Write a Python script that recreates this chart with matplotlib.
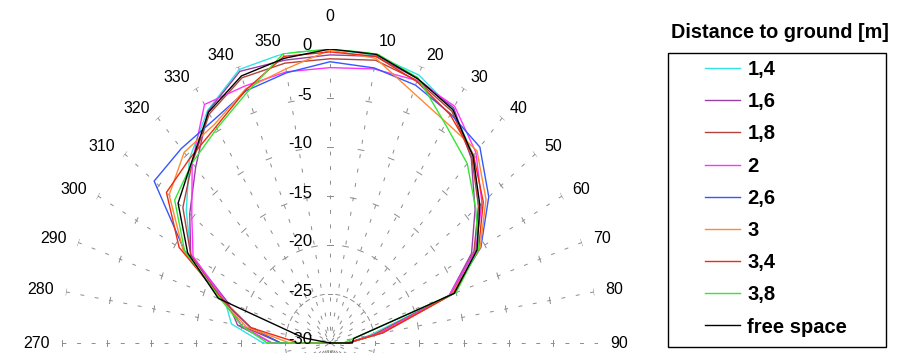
import numpy as np
import matplotlib.pyplot as plt
from matplotlib.patches import Rectangle
from matplotlib.lines import Line2D

# measured gain [dB] vs. azimuth [deg], upper half of the pattern
angles = [270, 280, 290, 300, 310, 320, 330, 340, 350, 0,
          10, 20, 30, 40, 50, 60, 70, 80, 90]

h14 = [-22.5, -18.8, -17.5, -12.0, -9.0, -5.5, -2.6, -0.3, 0.0, 0.0,
       -0.2, -0.9, -2.5, -5.0, -8.3, -11.3, -15.5, -25.5, -28.0]
h16 = [-23.5, -19.5, -17.8, -12.0, -9.5, -6.6, -2.7, -0.5, -0.7, -0.6,
       -0.3, -1.3, -2.3, -5.4, -8.8, -11.7, -15.8, -24.5, -28.0]
h18 = [-24.5, -20.0, -17.2, -12.0, -8.5, -6.0, -3.0, -1.2, -1.0, -1.0,
       -0.7, -1.5, -2.7, -5.3, -8.3, -11.4, -15.6, -25.0, -28.0]
h20 = [-23.5, -20.0, -17.5, -12.3, -9.8, -6.0, -1.9, -2.1, -1.9, -1.9,
       -1.6, -1.5, -2.1, -4.6, -7.8, -11.2, -15.8, -24.5, -28.0]
h26 = [-24.5, -21.0, -17.0, -11.2, -4.3, -4.1, -3.8, -2.6, -2.0, -1.3,
       -1.5, -2.0, -3.0, -3.9, -6.8, -10.5, -15.5, -24.0, -28.0]
h30 = [-25.5, -20.5, -17.0, -11.0, -6.5, -4.6, -4.2, -2.4, -1.6, -0.1,
       -0.5, -2.8, -4.0, -4.4, -7.2, -10.6, -15.5, -24.0, -28.0]
h34 = [-26.5, -21.0, -17.3, -10.5, -6.1, -5.5, -4.5, -2.5, -0.3, -0.3,
       -0.3, -1.6, -3.1, -5.0, -7.6, -10.8, -15.3, -24.0, -28.0]
h38 = [-23.0, -20.0, -17.0, -11.2, -7.3, -6.0, -4.7, -2.8, 0.0, 0.0,
       0.0, -1.2, -4.2, -6.1, -8.7, -10.8, -15.0, -27.3, -28.5]
free = [-30.0, -27.0, -16.7, -11.6, -7.8, -5.9, -2.8, -1.0, -0.5, 0.0,
        -0.1, -1.3, -2.5, -5.1, -8.1, -11.0, -15.2, -27.3, -27.5]

series = [h14, h16, h18, h20, h26, h30, h34, h38, free]
names = ["1,4", "1,6", "1,8", "2", "2,6", "3", "3,4", "3,8", "free space"]
colors = ["#33e3e3", "#9a3fa8", "#b2443a", "#ff33ff", "#3358ff",
          "#ff8a33", "#ee2a10", "#33e633", "#000000"]

rings = [-25, -20, -15, -10, -5, 0]
rlabels = [0, -5, -10, -15, -20, -25, -30]

plt.rcParams["font.family"] = ["Liberation Sans", "DejaVu Sans"]

W, H = 904, 353
fig = plt.figure(figsize=(W / 100, H / 100), dpi=100)

# polar axes with its centre near the bottom edge, only the top half shows
cx, cy = 330, 343
rx, ry = 268, 294
ax = fig.add_axes([(cx - rx) / W, (H - cy - ry) / H, 2 * rx / W, 2 * ry / H],
                  projection="polar")
ax.set_aspect("auto")
ax.set_theta_zero_location("N")
ax.set_theta_direction(-1)
ax.set_ylim(-30, 0)
ax.grid(False)
ax.set_xticks([])
ax.set_yticks([])
ax.spines["polar"].set_visible(False)

grey = "#8c8c8c"
for a in range(0, 360, 10):
    t = np.deg2rad(a)
    ax.plot([t, t], [0, -30], color=grey, lw=0.7, dashes=(4, 11))
    for r in rings:
        rpx = 280 * (r + 30) / 30
        d = min(3.0 / rpx, 0.045)
        ax.plot([t - d, t + d], [r, r], color=grey, lw=0.7)

for vals, name, c in zip(series, names, colors):
    th = np.deg2rad(angles + [angles[0]])
    ax.plot(th, vals + [vals[0]], color=c, lw=1.0, label=name)

# angle labels around the rim
for a in range(270, 451, 10):
    deg = a % 360
    t = np.deg2rad(deg)
    sx, sy = np.sin(t), np.cos(t)
    if deg == 0:
        ax.annotate("0", xy=(t, 0), xytext=(0, 25), textcoords="offset pixels",
                    ha="center", va="bottom", fontsize=11.5,
                    annotation_clip=False)
        continue
    ha = "left" if sx > 0 else "right"
    ax.annotate(str(deg), xy=(t, 0), xytext=(12 * sx, 12 * sy),
                textcoords="offset pixels", ha=ha, va="center",
                fontsize=11.5, annotation_clip=False)

# value labels along the 0 deg spoke
for v in rlabels:
    ax.annotate(str(v), xy=(0, v), xytext=(-18, 3), textcoords="offset pixels",
                ha="right", va="center", fontsize=12, annotation_clip=False)

# legend box and title
fig.add_artist(Rectangle((668 / W, (H - 347) / H), 218 / W, 294 / H,
                         transform=fig.transFigure, fill=False,
                         edgecolor="black", lw=1.0))
fig.text(780 / W, (H - 33) / H, "Distance to ground [m]", ha="center",
         va="center", fontsize=14.3, fontweight="bold")
handles = [Line2D([], [], color=c, lw=1.0) for c in colors]
fig.legend(handles, names, loc="upper left",
           bbox_to_anchor=(705 / W, (H - 60) / H), frameon=False,
           prop={"size": 14.5, "weight": "bold"}, handlelength=1.75,
           handletextpad=0.35, labelspacing=0.655, borderpad=0,
           borderaxespad=0)

fig.savefig("out.png", dpi=100)
